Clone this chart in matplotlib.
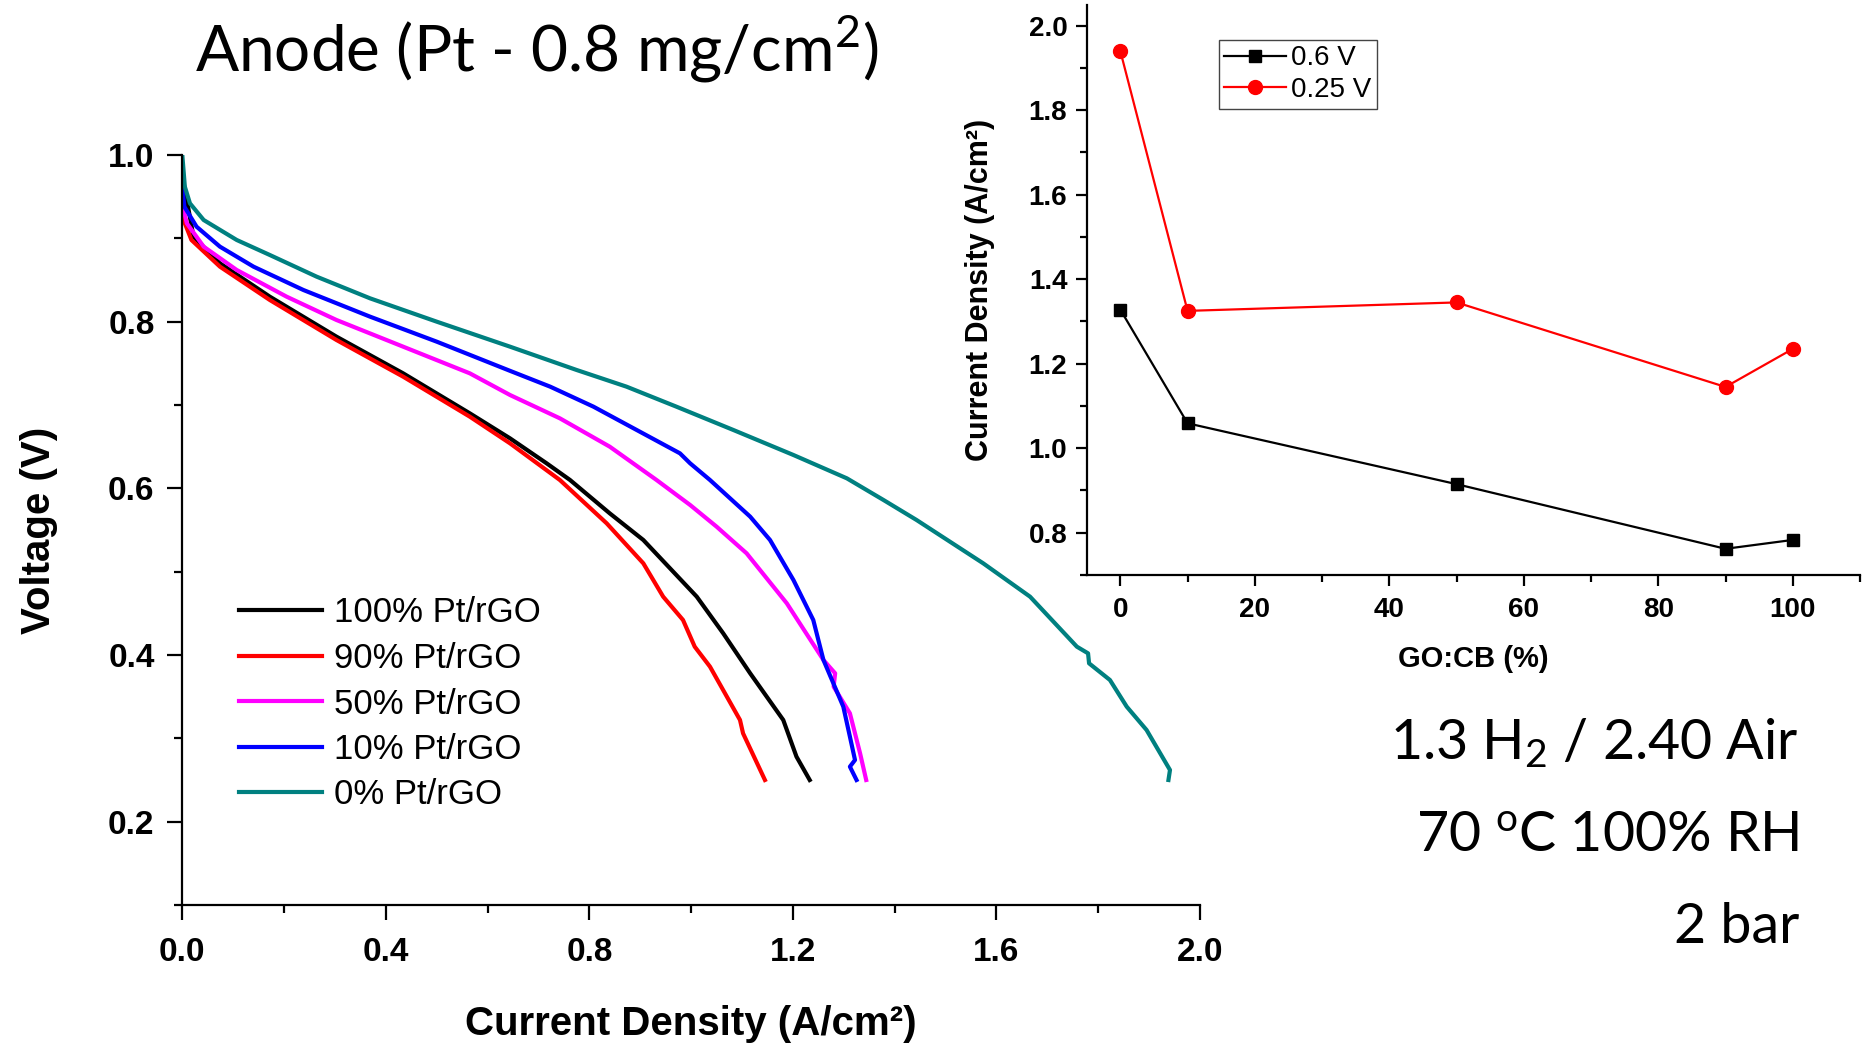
import matplotlib
matplotlib.use("Agg")
import matplotlib.pyplot as plt
from matplotlib.ticker import MultipleLocator

# Polarization curves (current density A/cm2, voltage V)
j_100 = [0.000, 0.010, 0.022, 0.074, 0.172, 0.303, 0.434, 0.565, 0.644, 0.716, 0.762,
         0.840, 0.906, 1.011, 1.063, 1.116, 1.181, 1.207, 1.233]
v_100 = [0.975, 0.942, 0.902, 0.870, 0.830, 0.782, 0.738, 0.690, 0.660, 0.630, 0.610,
         0.570, 0.538, 0.470, 0.426, 0.378, 0.322, 0.278, 0.250]

j_90 = [0.000, 0.005, 0.018, 0.074, 0.172, 0.303, 0.434, 0.565, 0.644, 0.742, 0.834,
        0.906, 0.945, 0.984, 1.007, 1.037, 1.096, 1.102, 1.145]
v_90 = [0.935, 0.918, 0.898, 0.866, 0.826, 0.778, 0.734, 0.686, 0.654, 0.610, 0.558,
        0.510, 0.470, 0.442, 0.410, 0.386, 0.322, 0.306, 0.250]

j_50 = [0.000, 0.009, 0.042, 0.107, 0.205, 0.303, 0.434, 0.565, 0.644, 0.742, 0.840,
        0.932, 0.998, 1.050, 1.109, 1.188, 1.260, 1.283, 1.280, 1.312, 1.332, 1.344]
v_50 = [0.940, 0.918, 0.890, 0.862, 0.830, 0.802, 0.770, 0.738, 0.712, 0.684, 0.650,
        0.610, 0.580, 0.554, 0.522, 0.462, 0.394, 0.378, 0.362, 0.330, 0.282, 0.250]

j_10 = [0.000, 0.004, 0.028, 0.074, 0.140, 0.238, 0.369, 0.500, 0.644, 0.723, 0.808,
        0.893, 0.978, 0.998, 1.037, 1.116, 1.155, 1.201, 1.240, 1.260, 1.299, 1.312,
        1.322, 1.312, 1.325]
v_10 = [0.962, 0.938, 0.914, 0.890, 0.866, 0.838, 0.806, 0.776, 0.741, 0.722, 0.698,
        0.670, 0.642, 0.630, 0.610, 0.566, 0.538, 0.490, 0.442, 0.394, 0.338, 0.302,
        0.274, 0.266, 0.250]

j_0 = [0.000, 0.005, 0.015, 0.042, 0.107, 0.172, 0.264, 0.369, 0.500, 0.644, 0.775,
       0.873, 0.971, 1.083, 1.201, 1.306, 1.378, 1.443, 1.574, 1.666, 1.758, 1.780,
       1.782, 1.823, 1.856, 1.895, 1.941, 1.938]
v_0 = [1.000, 0.962, 0.942, 0.922, 0.898, 0.880, 0.854, 0.828, 0.800, 0.770, 0.742,
       0.722, 0.698, 0.670, 0.640, 0.612, 0.586, 0.562, 0.510, 0.470, 0.410, 0.402,
       0.390, 0.370, 0.338, 0.310, 0.262, 0.250]

curve_labels = ["100% Pt/rGO", "90% Pt/rGO", "50% Pt/rGO", "10% Pt/rGO", "0% Pt/rGO"]
curve_colors = ["#000000", "#ff0000", "#ff00ff", "#0000ff", "#008080"]

# Inset: current density vs GO:CB ratio
go_cb = [0, 10, 50, 90, 100]
cd_06 = [1.328, 1.059, 0.915, 0.762, 0.783]
cd_025 = [1.940, 1.325, 1.345, 1.145, 1.235]

main_xticks = [0.0, 0.4, 0.8, 1.2, 1.6, 2.0]
main_yticks = [0.2, 0.4, 0.6, 0.8, 1.0]
inset_xticks = [0, 20, 40, 60, 80, 100]
inset_yticks = [0.8, 1.0, 1.2, 1.4, 1.6, 1.8, 2.0]

plt.rcParams['font.family'] = ['Liberation Sans', 'DejaVu Sans']
plt.rcParams['mathtext.fontset'] = 'custom'
plt.rcParams['mathtext.rm'] = 'Lato'
plt.rcParams['mathtext.it'] = 'Lato:italic'
plt.rcParams['mathtext.bf'] = 'Lato:bold'

W, H = 1872, 1043
fig = plt.figure(figsize=(W / 100, H / 100), dpi=100)

def frac(x0, y0, x1, y1):
    # pixel box (top-left origin) -> figure fraction rect
    return [x0 / W, 1 - y1 / H, (x1 - x0) / W, (y1 - y0) / H]

# ---- main plot ----
ax = fig.add_axes(frac(182.3, 155, 1200, 905))
data = [(j_100, v_100), (j_90, v_90), (j_50, v_50), (j_10, v_10), (j_0, v_0)]
for (jj, vv), lab, col in zip(data, curve_labels, curve_colors):
    ax.plot(jj, vv, color=col, lw=3, label=lab, solid_joinstyle='round')

ax.set_xlim(0, 2.0)
ax.set_ylim(0.1, 1.0)
for s in ['top', 'right']:
    ax.spines[s].set_visible(False)
for s in ['left', 'bottom']:
    ax.spines[s].set_linewidth(1.6)
ax.set_xticks(main_xticks)
ax.set_xticklabels([f"{t:.1f}" for t in main_xticks], fontweight='bold')
ax.set_yticks(main_yticks)
ax.set_yticklabels([f"{t:.1f}" for t in main_yticks], fontweight='bold')
ax.xaxis.set_minor_locator(MultipleLocator(0.2))
ax.yaxis.set_minor_locator(MultipleLocator(0.1))
ax.tick_params(which='major', direction='out', length=11, width=1.6, labelsize=24)
ax.tick_params(which='minor', direction='out', length=6, width=1.6)
ax.tick_params(axis='x', pad=12)
ax.tick_params(axis='y', pad=9)
ax.set_xlabel("Current Density (A/cm²)", fontsize=29, fontweight='bold', labelpad=27)
ax.set_ylabel("Voltage (V)", fontsize=29, fontweight='bold', labelpad=36)

ax.legend(loc='center left', bbox_to_anchor=(239 / W, 1 - 704 / H),
          bbox_transform=fig.transFigure, frameon=False, fontsize=25,
          handlelength=2.4, handletextpad=0.35, labelspacing=0.36,
          borderpad=0, borderaxespad=0)

# ---- inset ----
axi = fig.add_axes(frac(1086.7, 4.5, 1860, 575))
axi.set_facecolor('none')
axi.plot(go_cb, cd_06, color='black', lw=1.6, marker='s', ms=9, label='0.6 V')
axi.plot(go_cb, cd_025, color='#ff0000', lw=1.6, marker='o', ms=10, label='0.25 V')
axi.set_xlim(-5, 110)
axi.set_ylim(0.7, 2.05)
for s in ['top', 'right']:
    axi.spines[s].set_visible(False)
for s in ['left', 'bottom']:
    axi.spines[s].set_linewidth(1.6)
axi.set_xticks(inset_xticks)
axi.set_xticklabels([str(t) for t in inset_xticks], fontweight='bold')
axi.set_yticks(inset_yticks)
axi.set_yticklabels([f"{t:.1f}" for t in inset_yticks], fontweight='bold')
axi.xaxis.set_minor_locator(MultipleLocator(10))
axi.yaxis.set_minor_locator(MultipleLocator(0.1))
axi.tick_params(which='major', direction='out', length=8, width=1.6, labelsize=20, pad=6)
axi.tick_params(which='minor', direction='out', length=5, width=1.6)
axi.tick_params(axis='x', pad=8)
axi.set_xlabel("GO:CB (%)", fontsize=21, fontweight='bold', labelpad=16)
axi.set_ylabel("Current Density (A/cm²)", fontsize=22, fontweight='bold', labelpad=24)
leg = axi.legend(loc='upper left', bbox_to_anchor=(0.171, 0.938), fontsize=20,
                 fancybox=False, edgecolor='#444444', framealpha=1,
                 handlelength=2.2, handletextpad=0.2, labelspacing=0.2,
                 borderpad=0.2, borderaxespad=0, numpoints=1)
leg.get_frame().set_linewidth(1.0)

# ---- annotation text ----
fig.text(536.5 / W, 1 - 71 / H, r"Anode (Pt - 0.8 mg/cm$^2$)", family='Lato',
         fontsize=46, ha='center', va='baseline')
fig.text(1799 / W, 1 - 759 / H, r"1.3 H$_2$ / 2.40 Air", family='Lato',
         fontsize=40, ha='right', va='baseline')
fig.text(1799 / W, 1 - 852 / H, r"70 $^\mathrm{o}$C 100% RH", family='Lato',
         fontsize=40, ha='right', va='baseline')
fig.text(1799 / W, 1 - 943 / H, "2 bar", family='Lato',
         fontsize=40, ha='right', va='baseline')

fig.savefig("out.png", dpi=100, facecolor='white')
